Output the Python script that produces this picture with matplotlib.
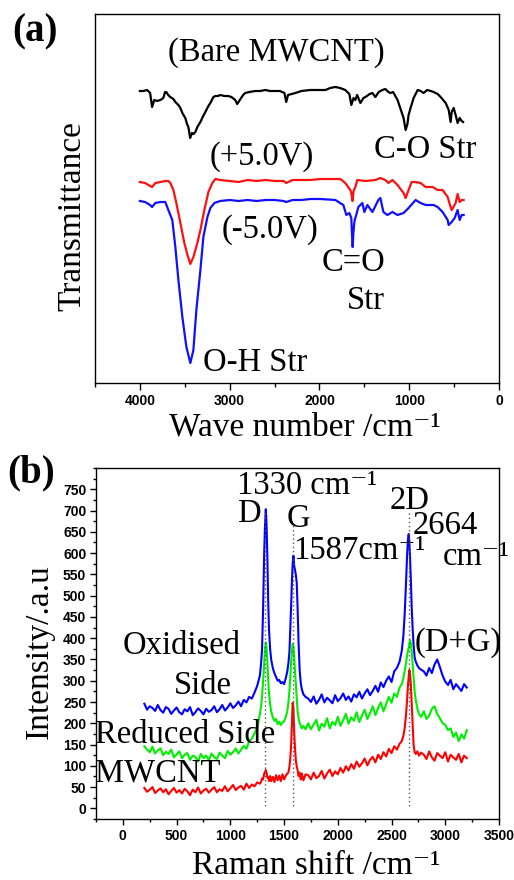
import matplotlib
matplotlib.use("Agg")
import matplotlib.pyplot as plt
from matplotlib.ticker import MultipleLocator

plt.rcParams["font.family"] = ["Liberation Serif", "DejaVu Serif"]

# ---- (a) FTIR spectra (transmittance in arbitrary units) ----
bare_wn = [4000, 3960, 3920, 3886, 3864, 3840, 3810, 3772, 3739, 3720, 3706, 3685, 3661, 3627,
           3605, 3571, 3549, 3527, 3494, 3475, 3460, 3440, 3420, 3404, 3382, 3360, 3326, 3300,
           3271, 3237, 3215, 3181, 3159, 3130, 3104, 3060, 3016, 2980, 2938, 2916, 2880, 2850,
           2827, 2780, 2716, 2660, 2604, 2550, 2492, 2440, 2390, 2370, 2350, 2269, 2200, 2102,
           2050, 1990, 1934, 1880, 1823, 1770, 1712, 1667, 1645, 1620, 1600, 1580, 1544, 1510,
           1488, 1440, 1410, 1377, 1340, 1299, 1266, 1232, 1210, 1180, 1130, 1100, 1063, 1040,
           1020, 1007, 985, 951, 906, 873, 840, 800, 760, 728, 684, 650, 594, 560, 539, 527,
           505, 483, 461, 438, 416, 400]
bare_t = [292, 292, 293, 290, 276, 283, 282, 283, 285, 291, 291, 288, 286, 284,
          281, 278, 275, 270, 265, 259, 256, 245, 250, 249, 251, 256, 261, 266,
          271, 277, 280, 286, 287, 287, 288, 287, 287, 286, 283, 279, 284, 288,
          290, 291, 292, 292, 293, 292, 292, 292, 290, 281, 288, 290, 292, 293,
          293, 293, 293, 295, 296, 295, 293, 289, 278, 285, 283, 288, 280, 285,
          286, 289, 290, 286, 291, 293, 294, 291, 290, 291, 283, 275, 265, 253,
          259, 268, 275, 285, 293, 292, 290, 293, 292, 291, 289, 286, 280, 273, 261, 271,
          275, 268, 260, 265, 262, 261]

pos_wn = [4000, 3942, 3886, 3864, 3828, 3772, 3717, 3683, 3661, 3627, 3594, 3549, 3505, 3470,
          3438, 3404, 3360, 3326, 3282, 3237, 3193, 3159, 3104, 3000, 2900, 2800, 2700, 2600,
          2500, 2400, 2370, 2300, 2200, 2100, 1990, 1880, 1767, 1712, 1656, 1645, 1632, 1620,
          1600, 1578, 1488, 1377, 1321, 1266, 1232, 1187, 1130, 1063, 1040, 1007, 973, 929,
          873, 817, 739, 684, 628, 572, 539, 527, 483, 461, 438, 416, 394]
pos_t = [201, 200, 197, 196, 200, 201, 202, 202, 200, 193, 180, 160, 140, 128,
         119, 126, 140, 153, 173, 191, 200, 204, 203, 202, 201, 203, 202, 203,
         202, 202, 200, 203, 203, 203, 204, 204, 204, 200, 193, 190, 182, 192,
         196, 203, 202, 203, 205, 203, 200, 203, 198, 190, 185, 193, 201, 201,
         200, 196, 196, 193, 193, 186, 176, 173, 180, 189, 181, 183, 183]

neg_wn = [4000, 3942, 3886, 3864, 3828, 3772, 3717, 3683, 3639, 3605, 3571, 3527, 3482, 3438,
          3404, 3371, 3326, 3293, 3248, 3215, 3170, 3104, 3000, 2900, 2800, 2700, 2600, 2500,
          2400, 2370, 2300, 2200, 2100, 1990, 1823, 1734, 1700, 1667, 1645, 1638, 1630, 1622,
          1610, 1600, 1566, 1522, 1500, 1466, 1410, 1344, 1321, 1288, 1243, 1187, 1130, 1063,
          1007, 929, 873, 817, 728, 684, 628, 572, 561, 527, 494, 461, 438, 416, 394]
neg_t = [182, 181, 178, 176, 180, 181, 181, 173, 163, 136, 103, 66, 36, 20,
         33, 73, 113, 146, 166, 175, 180, 182, 183, 182, 183, 182, 183, 183,
         182, 181, 183, 183, 184, 184, 183, 178, 168, 170, 165, 150, 136, 150,
         162, 165, 176, 180, 171, 178, 171, 183, 185, 171, 168, 171, 168, 170,
         175, 183, 180, 178, 178, 176, 171, 163, 158, 161, 165, 173, 163, 168, 168]

# ---- (b) Raman spectra ----
raman_shift = [
    200, 225, 250, 275, 300, 325, 350, 375, 400, 425, 450, 475, 500, 525, 550, 575, 600, 625,
    650, 675, 700, 725, 750, 775, 800, 825, 850, 875, 900, 925, 950, 975, 1000, 1025, 1050,
    1075, 1100, 1125, 1150, 1175, 1200, 1225, 1250, 1275,
    1285, 1295, 1305, 1315, 1322, 1330, 1337, 1345, 1352, 1360, 1370, 1380, 1395, 1410, 1425,
    1440, 1455, 1470, 1485, 1500, 1515, 1530, 1540, 1550, 1558, 1566, 1574, 1580, 1587, 1594,
    1602, 1610, 1618, 1626, 1635, 1645, 1655, 1665, 1680, 1700,
    1725, 1750, 1775, 1800, 1825, 1850, 1875, 1900, 1925, 1950, 1975, 2000, 2025, 2050, 2075,
    2100, 2125, 2150, 2175, 2200, 2225, 2250, 2275, 2300, 2325, 2350, 2375, 2400, 2425, 2450,
    2475, 2500, 2525, 2550, 2575,
    2595, 2610, 2622, 2634, 2644, 2652, 2660, 2666, 2672, 2680, 2688, 2696, 2705, 2715, 2725,
    2740, 2755, 2775,
    2800, 2825, 2850, 2875, 2900, 2925, 2950, 2975, 3000, 3025, 3050, 3075, 3100, 3125, 3150,
    3175, 3200]

oxidised = [
    246, 232, 240, 236, 229, 243, 231, 225, 238, 234, 222, 230, 237, 226, 221, 233, 228, 238,
    219, 226, 235, 229, 221, 234, 227, 231, 240, 226, 233, 243, 230, 237, 247, 236, 242,
    251, 240, 255, 249, 262, 258, 272, 288, 312,
    338, 372, 470, 600, 660, 703, 668, 585, 490, 420, 375, 350, 330, 318, 309,
    300, 302, 294, 297, 292, 305, 322, 340, 368, 420, 478, 540, 575, 594, 570,
    560, 548, 530, 470, 390, 325, 295, 280, 268, 262,
    258, 250, 263, 246, 255, 268, 249, 260, 254, 247, 266, 252, 259, 270, 255,
    263, 251, 268, 261, 274, 258, 270, 280, 266, 276, 288, 274, 296, 285, 300,
    310, 297, 322, 330, 345,
    370, 405, 455, 525, 590, 630, 645, 625, 590, 535, 470, 425, 385, 355, 345,
    336, 330, 326,
    322, 312, 330, 318, 338, 350, 332, 312, 298, 290, 302, 280, 292, 284, 276,
    292, 284]

reduced = [
    146, 138, 132, 145, 129, 136, 141, 125, 133, 128, 138, 120, 127, 134, 118, 126, 130, 114,
    124, 121, 110, 128, 118, 124, 113, 129, 120, 116, 131, 124, 118, 135, 126, 132, 141,
    129, 138, 147, 140, 158, 164, 176, 190, 222,
    238, 262, 300, 345, 372, 390, 378, 345, 305, 270, 245, 228, 214, 206, 210,
    198, 204, 196, 202, 205, 214, 228, 248, 275, 310, 345, 372, 386, 380, 352,
    320, 285, 252, 228, 212, 200, 195, 188, 194, 186,
    200, 186, 197, 208, 183, 199, 192, 212, 188, 203, 196, 215, 194, 207, 222,
    199, 214, 206, 226, 203, 218, 232, 210, 224, 240, 219, 236, 249, 228, 245,
    262, 248, 270, 262, 284,
    292, 305, 322, 340, 358, 370, 378, 386, 395, 388, 368, 340, 305, 275, 255,
    235, 222, 215,
    228, 210, 218, 234, 240, 222, 212, 200, 196, 184, 188, 168, 178, 158, 174,
    164, 184]

mwcnt = [
    48, 39, 44, 50, 36, 42, 47, 38, 45, 33, 41, 48, 37, 43, 35, 46, 40, 31,
    44, 38, 49, 35, 42, 46, 37, 44, 50, 38, 45, 41, 52, 40, 47, 55, 43,
    49, 53, 44, 58, 48, 56, 52, 61, 58,
    62, 70, 68, 82, 84, 90, 84, 72, 74, 64, 76, 64, 74, 62, 78,
    66, 77, 64, 80, 68, 76, 82, 84, 98, 118, 150, 205, 248, 236, 180,
    140, 112, 98, 90, 76, 84, 68, 82, 66, 80,
    78, 68, 84, 71, 76, 88, 70, 82, 91, 76, 87, 80, 95, 84, 99,
    89, 104, 93, 110, 98, 106, 117, 101, 114, 121, 108, 126, 116, 132, 122,
    140, 130, 146, 138, 152,
    158, 170, 188, 218, 252, 285, 312, 325, 318, 290, 245, 195, 150, 132, 128,
    134, 124, 131,
    126, 116, 134, 120, 112, 130, 124, 118, 132, 110, 126, 120, 114, 128, 108,
    124, 118]

peak_shift = [1322, 1580, 2658]
peak_top = [700, 665, 700]


def style_ticks(ax):
    for lbl in ax.get_xticklabels() + ax.get_yticklabels():
        lbl.set_fontfamily("Liberation Sans")
        lbl.set_fontweight("bold")
        lbl.set_fontsize(10)


fig = plt.figure(figsize=(5.14, 8.8), dpi=100)
ax1 = fig.add_axes([95 / 514, 1 - 383 / 880, 404 / 514, 369 / 880])
ax2 = fig.add_axes([96 / 514, 1 - 819 / 880, 403 / 514, 351 / 880])

# panel (a)
ax1.plot(bare_wn, bare_t, color="black", lw=1.6)
ax1.plot(pos_wn, pos_t, color="#ff1010", lw=1.6)
ax1.plot(neg_wn, neg_t, color="#1010ff", lw=1.6)
ax1.set_xlim(4500, 0)
ax1.set_ylim(0, 369)
ax1.xaxis.set_major_locator(MultipleLocator(1000))
ax1.xaxis.set_minor_locator(MultipleLocator(500))
ax1.set_yticks([])
ax1.tick_params(axis="x", which="major", direction="out", length=5, width=1, pad=3)
ax1.tick_params(axis="x", which="minor", direction="out", length=3, width=1)
style_ticks(ax1)
for sp in ax1.spines.values():
    sp.set_linewidth(1.0)

ts = 23.5
ax1.text(2479, 330, "(Bare MWCNT)", fontsize=ts, ha="center", va="center")
ax1.text(817, 233, "C-O Str", fontsize=ts, ha="center", va="center")
ax1.text(2640, 226, "(+5.0V)", fontsize=ts, ha="center", va="center")
ax1.text(2551, 153, "(-5.0V)", fontsize=ts, ha="center", va="center")
ax1.text(1626, 120, "C=O", fontsize=ts, ha="center", va="center")
ax1.text(1479, 82, "Str", fontsize=ts, ha="center", va="center")
ax1.text(2713, 20, "O-H Str", fontsize=ts, ha="center", va="center")

ax1.set_xlabel("Wave number /cm⁻¹", fontsize=24, va="center")
ax1.xaxis.set_label_coords(0.52, -0.119)
ax1.set_ylabel("Transmittance", fontsize=24, va="center")
ax1.yaxis.set_label_coords(-0.057, 0.4526)

# panel (b)
ax2.plot(raman_shift, oxidised, color="#0000ff", lw=1.5)
ax2.plot(raman_shift, reduced, color="#00ee00", lw=1.5)
ax2.plot(raman_shift, mwcnt, color="#ff0000", lw=1.5)
ax2.vlines(peak_shift, 5, peak_top, colors="#555555", linestyles=(0, (1, 2)), lw=1.0, zorder=5)
ax2.set_xlim(-250, 3500)
ax2.set_ylim(-25, 800)
ax2.xaxis.set_major_locator(MultipleLocator(500))
ax2.xaxis.set_minor_locator(MultipleLocator(250))
ax2.set_yticks(range(0, 751, 50))
ax2.yaxis.set_minor_locator(MultipleLocator(25))
ax2.tick_params(which="major", direction="out", length=4, width=1, pad=3)
ax2.tick_params(which="minor", direction="out", length=2.5, width=1)
style_ticks(ax2)
for sp in ax2.spines.values():
    sp.set_linewidth(1.0)

ax2.text(1066, 758, "1330 cm⁻¹", fontsize=ts, ha="left", va="center")
ax2.text(1182, 692, "D", fontsize=ts, ha="center", va="center")
ax2.text(1634, 680, "G", fontsize=ts, ha="center", va="center")
ax2.text(1583, 605, "1587cm⁻¹", fontsize=ts, ha="left", va="center")
ax2.text(2664, 723, "2D", fontsize=ts, ha="center", va="center")
ax2.text(2692, 664, "2664", fontsize=ts, ha="left", va="center")
ax2.text(2972, 592, "cm⁻¹", fontsize=ts, ha="left", va="center")
ax2.text(3117, 389, "(D+G)", fontsize=ts, ha="center", va="center")
ax2.text(543, 383, "Oxidised", fontsize=ts, ha="center", va="center")
ax2.text(748, 289, "Side", fontsize=ts, ha="center", va="center")
ax2.text(575, 172, "Reduced Side", fontsize=ts, ha="center", va="center")
ax2.text(328, 83, "MWCNT", fontsize=ts, ha="center", va="center")

ax2.set_xlabel("Raman shift /cm⁻¹", fontsize=24, va="center")
ax2.xaxis.set_label_coords(0.546, -0.133)
ax2.set_ylabel("Intensity/.a.u", fontsize=24, va="center")
ax2.yaxis.set_label_coords(-0.139, 0.476)

fig.text(35 / 514, 1 - 32 / 880, "(a)", fontsize=28, fontweight="bold", ha="center", va="center")
fig.text(31 / 514, 1 - 473 / 880, "(b)", fontsize=28, fontweight="bold", ha="center", va="center")

fig.savefig("out.png", dpi=100)
